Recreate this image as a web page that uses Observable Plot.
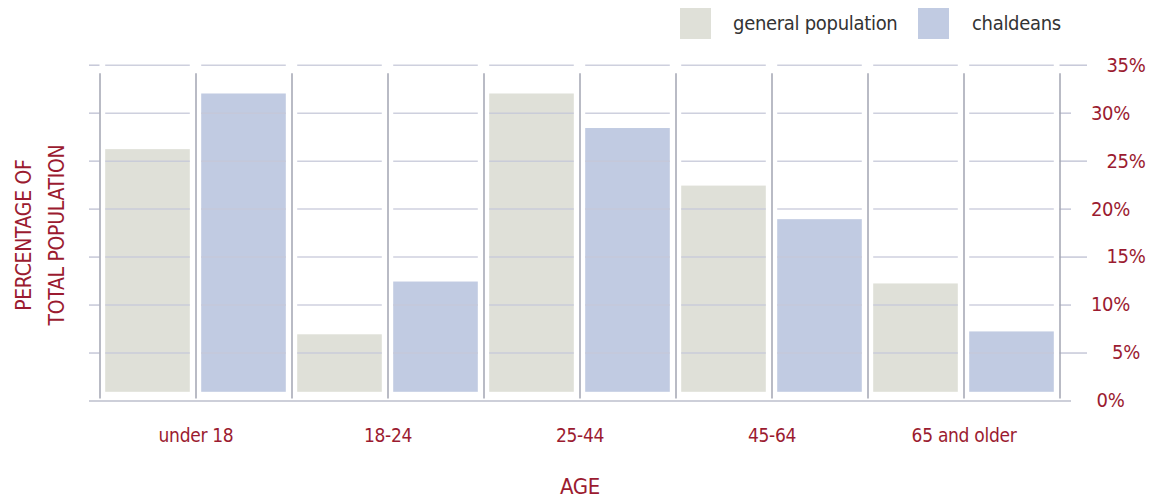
<!DOCTYPE html>
<html>
<head>
<meta charset="utf-8">
<script src="https://cdn.jsdelivr.net/npm/d3@7"></script>
<script src="https://cdn.jsdelivr.net/npm/@observablehq/plot@0.6"></script>
<style>
  html, body { margin: 0; padding: 0; background: #fff; }
  #wrap { position: relative; width: 1158px; height: 503px; overflow: hidden; }
  #legend { position: absolute; left: 0; top: 0; width: 1158px; height: 48px; }
  .sw { position: absolute; top: 8px; width: 31px; height: 31px; }
  .lt { position: absolute; top: 8px; height: 31px; line-height: 31px; font-size: 20px; color: #333;
        font-family: "Liberation Sans Narrow", "DejaVu Sans Condensed", Roboto, sans-serif; font-stretch: condensed;
        letter-spacing: -0.3px; }
  #chart { position: absolute; left: 0; top: 0; }
</style>
</head>
<body>
<div id="wrap">
  <div id="chart"></div>
  <div id="legend"></div>
</div>
<script>
const ages = ["under 18", "18-24", "25-44", "45-64", "65 and older"];
const seriesNames = ["general population", "chaldeans"];
const generalPop = [26.2, 6.9, 32.0, 22.4, 12.2];
const chaldeans = [32.0, 12.4, 28.4, 18.9, 7.2];
const yTicks = [0, 5, 10, 15, 20, 25, 30, 35];
const longTicks = [35, 25, 15, 5];
const shortTicks = [30, 20, 10, 0];
const seriesColors = ["#dfe0d8", "#c1cbe2"];
const yTitle = "PERCENTAGE OF\nTOTAL POPULATION";
const xTitle = "AGE";

const red = "#9b1b30";
const font = '"Liberation Sans Narrow", "DejaVu Sans Condensed", Roboto, sans-serif';

// rows: one per bar, slot = position index along x
const rows = [];
ages.forEach((age, i) => {
  [generalPop, chaldeans].forEach((vals, s) => {
    rows.push({age, series: seriesNames[s], value: vals[i], slot: 2 * i + s});
  });
});
const slots = d3.range(ages.length * 2);
const gridTicks = yTicks.filter(t => t > 0);
const gridCells = [];
slots.forEach(slot => gridTicks.forEach(v => gridCells.push({slot, v})));
const boundaries = d3.range(slots.length + 1);
const first = boundaries[0], last = boundaries[boundaries.length - 1];

const chart = Plot.plot({
  width: 1158,
  height: 503,
  marginLeft: 99.5,
  marginRight: 98.5,
  marginTop: 64.7,
  marginBottom: 102.5,
  style: {fontFamily: font, fontSize: "19px", fontStretch: "condensed", background: "#fff", letterSpacing: "-0.3px"},
  x: {domain: [first, last], axis: null},
  y: {domain: [0, 35], axis: null},
  color: {domain: seriesNames, range: seriesColors},
  marks: [
    Plot.rect(rows, {x1: "slot", x2: d => d.slot + 1, y1: 0, y2: "value", fill: "series",
      insetLeft: 5.7, insetRight: 5.7, insetBottom: 8.7}),
    Plot.ruleY(gridCells, {x1: "slot", x2: d => d.slot + 1, y: "v", stroke: "#c6c8d8", strokeWidth: 1.5,
      strokeOpacity: 0.85, insetLeft: 5.7, insetRight: 5.7}),
    Plot.ruleY(gridTicks, {x1: first, x2: first, y: d => d, stroke: "#c6c8d8", strokeWidth: 1.5, insetLeft: -10.5}),
    Plot.ruleY(longTicks, {x1: last, x2: last, y: d => d, stroke: "#c6c8d8", strokeWidth: 1.5, insetRight: -27.5}),
    Plot.ruleY(shortTicks.filter(t => t > 0), {x1: last, x2: last, y: d => d, stroke: "#c6c8d8", strokeWidth: 1.5, insetRight: -11.5}),
    Plot.ruleY([0], {x1: first, x2: last, stroke: "#bcbfcd", strokeWidth: 1.5, insetLeft: -10.5, insetRight: -11.5}),
    Plot.ruleX(boundaries, {y1: 0, y2: 35, stroke: "#a2a5b2", strokeWidth: 1.5, insetTop: -2, insetBottom: -8.5}),
    Plot.text(ages, {x: (d, i) => 2 * i + 1, frameAnchor: "bottom", dy: 41, fill: red, fontSize: 19}),
    Plot.text([xTitle], {frameAnchor: "bottom", dy: 93, fill: red, fontSize: 22}),
    Plot.text(longTicks, {y: d => d, text: d => `${d}%`, frameAnchor: "right", dx: 66, textAnchor: "middle", fill: red, fontSize: 20}),
    Plot.text(shortTicks, {y: d => d, text: d => `${d}%`, frameAnchor: "right", dx: 50.5, textAnchor: "middle", fill: red, fontSize: 20}),
    Plot.text([yTitle], {frameAnchor: "left", textAnchor: "middle", dx: -63, dy: 2, rotate: -90, fill: red, fontSize: 21, lineHeight: 1.55})
  ]
});
document.getElementById("chart").appendChild(chart);

// legend
const legend = document.getElementById("legend");
const legendPos = [{sw: 680, tx: 733}, {sw: 918, tx: 972}];
seriesNames.forEach((name, i) => {
  const sw = document.createElement("div");
  sw.className = "sw";
  sw.style.left = legendPos[i].sw + "px";
  sw.style.background = seriesColors[i];
  legend.appendChild(sw);
  const t = document.createElement("div");
  t.className = "lt";
  t.style.left = legendPos[i].tx + "px";
  t.textContent = name;
  legend.appendChild(t);
});
</script>
</body>
</html>
